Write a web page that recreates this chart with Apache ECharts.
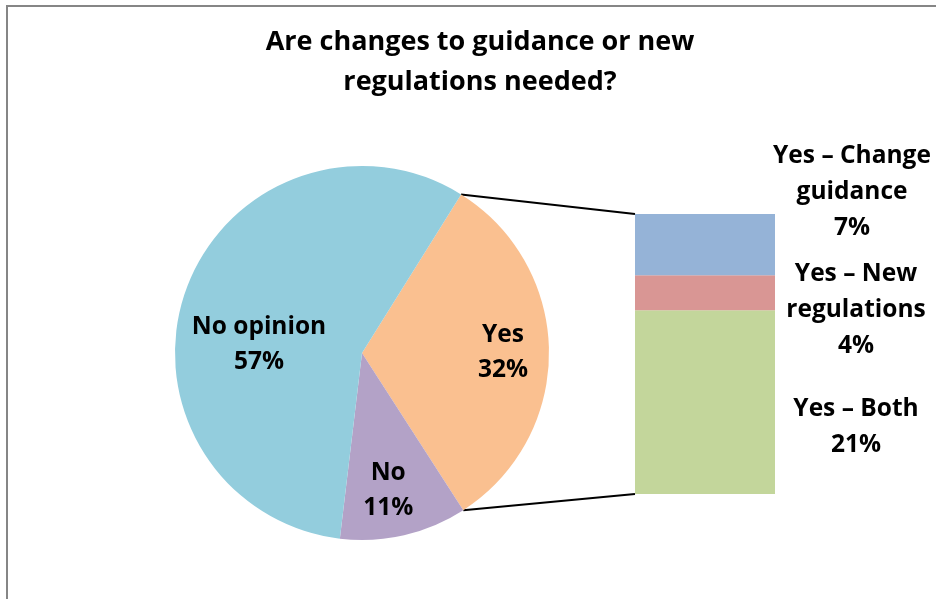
<!DOCTYPE html>
<html>
<head>
<meta charset="utf-8">
<script src="https://cdn.jsdelivr.net/npm/echarts@6/dist/echarts.min.js"></script>
<style>
  html, body { margin: 0; padding: 0; background: #ffffff; }
  #chart { width: 936px; height: 599px; }
</style>
</head>
<body>
<div id="chart"></div>
<script>
// Survey answers (percent of respondents)
const pieNames = ['Yes', 'No', 'No opinion'];
const pieValues = [32, 11, 57];
const pieColors = ['#FAC090', '#B3A2C7', '#93CDDD'];

// Breakdown of the "Yes" answers, stacked from the bottom up
const yesNames = ['Yes – Both', 'Yes – New\nregulations', 'Yes – Change\nguidance'];
const yesValues = [21, 4, 7];
const yesColors = ['#C3D69B', '#D99694', '#95B3D7'];

const titleText = 'Are changes to guidance or new\nregulations needed?';

const FONT = 'Open Sans';
const PIE_CENTER = [362, 353];
const PIE_RADIUS = 187;
const PIE_START = 58; // degrees, counter-clockwise from 3 o'clock
const GRID = { left: 635, top: 214, width: 140, height: 280 };

const chart = echarts.init(document.getElementById('chart'), null, { renderer: 'canvas' });

// Where each slice label sits: fraction of the radius, and turn (deg) away from the slice's mid-angle
const pieLabelPolar = [[0.754, 1.2], [0.735, -2], [0.554, 13.3]];
const PIE_LABEL_DROP = 3; // small downward nudge so the text block sits optically centred
// Label anchor for each stacked segment, relative to the segment's rect
const barLabelPos = [[221, 117], [221, 35], [217, -22]];

const pieTotal = pieValues.reduce((a, b) => a + b, 0);
const yesTotal = yesValues.reduce((a, b) => a + b, 0);

// Mid-angle (degrees, counter-clockwise from 3 o'clock) of slice i
function sliceMidAngle(i) {
  let before = 0;
  for (let k = 0; k < i; k++) before += pieValues[k];
  return PIE_START - (before + pieValues[i] / 2) / pieTotal * 360;
}

const barSeries = yesNames.map((name, i) => ({
  type: 'bar',
  name: name,
  stack: 'yes',
  barWidth: '100%',
  data: [yesValues[i]],
  itemStyle: { color: yesColors[i] },
  label: {
    show: true,
    position: barLabelPos[i],
    align: 'center',
    verticalAlign: 'middle',
    formatter: p => p.seriesName + '\n' + p.value + '%',
    fontFamily: FONT,
    fontWeight: 'bold',
    fontSize: 24.5,
    lineHeight: 36,
    color: '#000'
  },
  emphasis: { disabled: true },
  animation: false
}));

const yesShare = pieValues[0] / pieTotal;
const a0 = PIE_START * Math.PI / 180;
const a1 = (PIE_START - yesShare * 360) * Math.PI / 180;
const sliceEdgeTop = [PIE_CENTER[0] + PIE_RADIUS * Math.cos(a0), PIE_CENTER[1] - PIE_RADIUS * Math.sin(a0)];
const sliceEdgeBottom = [PIE_CENTER[0] + PIE_RADIUS * Math.cos(a1), PIE_CENTER[1] - PIE_RADIUS * Math.sin(a1)];

chart.setOption({
  backgroundColor: '#ffffff',
  animation: false,
  title: {
    text: titleText,
    left: 475,
    textAlign: 'center',
    top: 17,
    textStyle: {
      fontFamily: FONT,
      fontWeight: 'bold',
      fontSize: 27,
      lineHeight: 40,
      color: '#000'
    }
  },
  grid: GRID,
  xAxis: { type: 'category', data: ['Yes'], show: false },
  yAxis: { type: 'value', min: 0, max: yesTotal, show: false },
  series: [
    {
      type: 'pie',
      center: PIE_CENTER,
      radius: PIE_RADIUS,
      startAngle: PIE_START,
      clockwise: true,
      avoidLabelOverlap: false,
      data: pieNames.map((n, i) => ({ name: n, value: pieValues[i], itemStyle: { color: pieColors[i] } })),
      label: {
        show: true,
        position: 'inside',
        formatter: p => p.name + '\n' + p.value + '%',
        fontFamily: FONT,
        fontWeight: 'bold',
        fontSize: 24.5,
        lineHeight: 35,
        color: '#000'
      },
      labelLine: { show: false },
      labelLayout: p => {
        const [k, turn] = pieLabelPolar[p.dataIndex];
        const ang = (sliceMidAngle(p.dataIndex) + turn) * Math.PI / 180;
        return {
          x: PIE_CENTER[0] + k * PIE_RADIUS * Math.cos(ang),
          y: PIE_CENTER[1] - k * PIE_RADIUS * Math.sin(ang) + PIE_LABEL_DROP
        };
      },
      emphasis: { disabled: true },
      animation: false
    },
    ...barSeries
  ]
});

// Chart frame and the connector lines from the "Yes" slice edges to the bar's corners
const yTop = chart.convertToPixel({ yAxisIndex: 0 }, yesTotal);
const yBot = chart.convertToPixel({ yAxisIndex: 0 }, 0);
const lineStyle = { stroke: '#000', lineWidth: 2 };
chart.setOption({
  graphic: [
    { type: 'rect', silent: true, shape: { x: 7, y: 6, width: 1000, height: 700 },
      style: { fill: null, stroke: '#868686', lineWidth: 2 }, z: 100 },
    { type: 'line', silent: true,
      shape: { x1: sliceEdgeTop[0], y1: sliceEdgeTop[1], x2: GRID.left, y2: yTop }, style: lineStyle },
    { type: 'line', silent: true,
      shape: { x1: sliceEdgeBottom[0], y1: sliceEdgeBottom[1], x2: GRID.left, y2: yBot }, style: lineStyle }
  ]
});
</script>
</body>
</html>
